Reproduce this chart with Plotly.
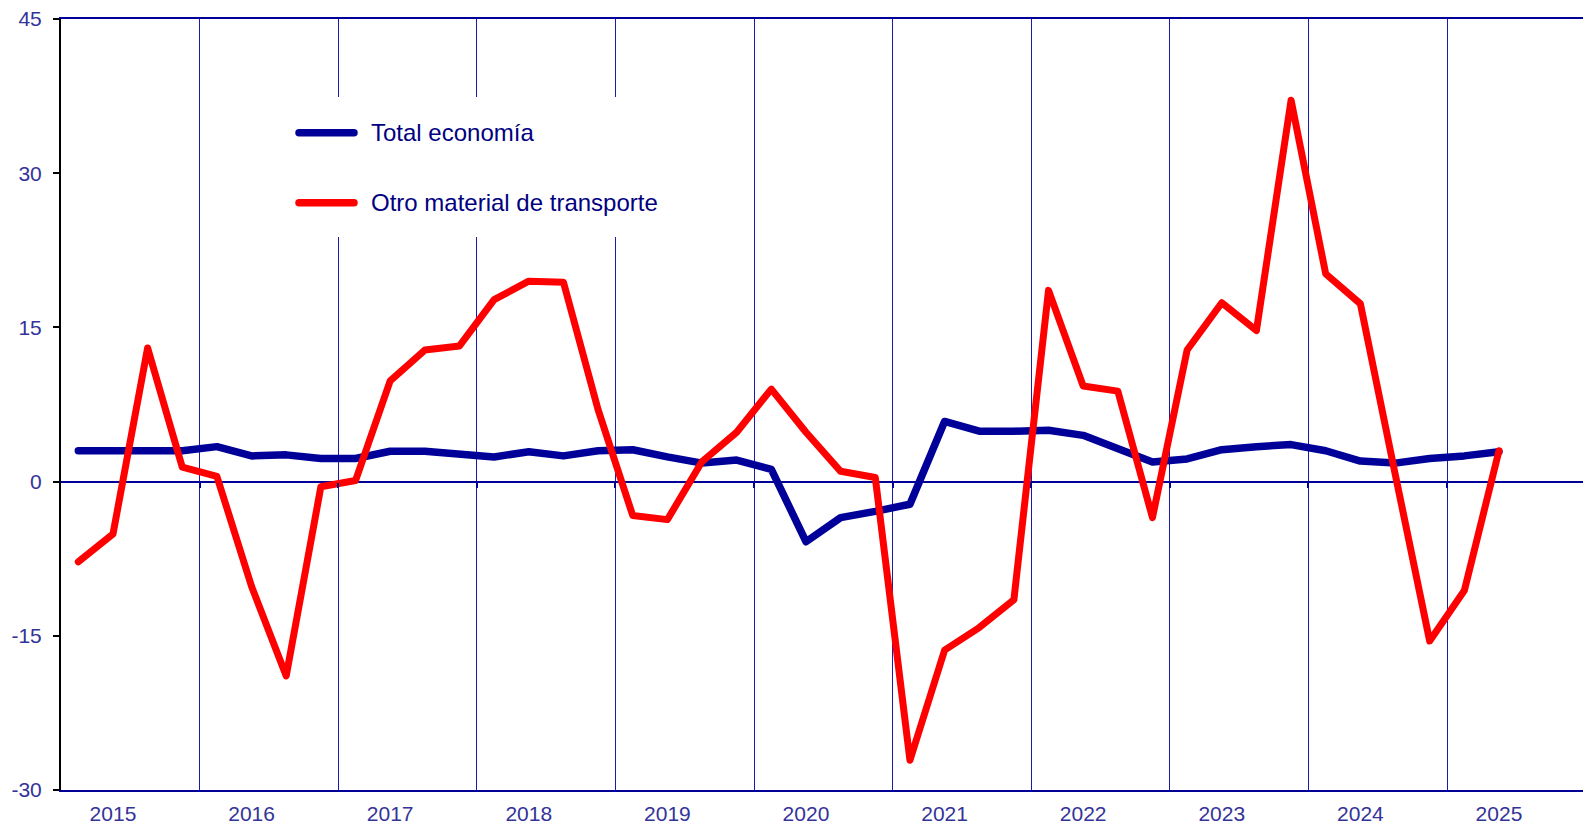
import plotly.graph_objects as go

# ---- data -------------------------------------------------------------
years = [str(y) for y in range(2015, 2026)]

total_economia = [
    3.0, 3.0, 3.1, 3.0,      # 2015
    3.4, 2.5, 2.6, 2.25,     # 2016
    2.25, 2.95, 2.95, 2.7,   # 2017
    2.4, 2.9, 2.5, 3.0,      # 2018
    3.1, 2.4, 1.8, 2.1,      # 2019
    1.2, -5.85, -3.5, -2.9,  # 2020
    -2.2, 5.85, 4.9, 4.9,    # 2021
    5.0, 4.5, 3.2, 1.9,      # 2022
    2.2, 3.1, 3.4, 3.6,      # 2023
    3.0, 2.0, 1.8, 2.25,     # 2024
    2.5, 2.9,                # 2025
]

otro_material = [
    -7.8, -5.1, 13.0, 1.4,      # 2015
    0.5, -10.2, -18.9, -0.5,    # 2016
    0.1, 9.8, 12.8, 13.2,       # 2017
    17.7, 19.5, 19.4, 7.0,      # 2018
    -3.3, -3.7, 1.95, 4.8,      # 2019
    9.0, 4.8, 1.0, 0.4,         # 2020
    -27.1, -16.4, -14.2, -11.5, # 2021
    18.6, 9.3, 8.8, -3.5,       # 2022
    12.8, 17.4, 14.7, 37.1,     # 2023
    20.2, 17.3, 0.8, -15.5,     # 2024
    -10.6, 3.0,                 # 2025
]

y_ticks = [-30, -15, 0, 15, 30, 45]
y_ticktext = ["-30", "-15", "0", "15", "30", "45"]

series_names = ["Total economía", "Otro material de transporte"]
series_colors = ["#000099", "#ff0000"]

# quarter index (0 = first quarter of 2015)
qidx = list(range(len(total_economia)))
year_label_pos = [4 * i + 1 for i in range(len(years))]
year_bounds = [4 * i - 0.5 for i in range(1, len(years))]

# ---- figure -------------------------------------------------------------
W, H = 1583, 828
ML, MR, MT, MB = 61, 0, 19, 38
PW, PH = W - ML - MR, H - MT - MB

fig = go.Figure()
fig.add_trace(go.Scatter(x=qidx, y=total_economia, mode="lines", name=series_names[0],
                         line=dict(color=series_colors[0], width=7.5), showlegend=False,
                         xaxis="x", yaxis="y"))
fig.add_trace(go.Scatter(x=qidx, y=otro_material, mode="lines", name=series_names[1],
                         line=dict(color=series_colors[1], width=7), showlegend=False,
                         xaxis="x2", yaxis="y"))

tick_font = dict(family="Liberation Sans, Arial, sans-serif", size=21, color="#333399")
xr = [-0.5, -0.5 + PW / 34.65]

fig.update_layout(
    width=W, height=H,
    margin=dict(l=ML, r=MR, t=MT, b=MB, pad=0),
    paper_bgcolor="white", plot_bgcolor="white",
    showlegend=False,
    xaxis=dict(
        range=xr, tickmode="array", tickvals=year_label_pos, ticktext=years,
        ticks="", showgrid=False, zeroline=False,
        showline=True, linecolor="#000099", linewidth=2, mirror=True,
        tickfont=tick_font, automargin=False, ticklabelstandoff=4,
        minor=dict(tickmode="array", tickvals=year_bounds, showgrid=True,
                   gridcolor="#1a1aa8", gridwidth=1, ticks=""),
    ),
    xaxis2=dict(
        overlaying="x", matches="x", anchor="free", position=0.4,
        range=xr, tickmode="array", tickvals=year_bounds, ticks="outside",
        ticklen=5, tickwidth=1.5, tickcolor="#000099",
        showticklabels=False, showgrid=False, zeroline=False, showline=False,
        automargin=False,
    ),
    yaxis=dict(
        range=[-30, 45], tickmode="array", tickvals=y_ticks, ticktext=y_ticktext,
        showgrid=False, showline=True, linecolor="black", linewidth=2,
        ticks="outside", ticklen=6, tickwidth=2, tickcolor="black",
        zeroline=True, zerolinecolor="#000099", zerolinewidth=2,
        tickfont=tick_font, automargin=False, ticklabelstandoff=7,
    ),
)

# ---- legend (inside the plot, white box hiding the grid) ----------------
def px_x(p):
    return (p - ML) / PW

def px_y(p):
    return (H - MB - p) / PH

fig.add_shape(type="rect", xref="paper", yref="paper",
              x0=px_x(262), x1=px_x(680), y0=px_y(237), y1=px_y(97),
              fillcolor="white", line=dict(width=0), layer="above")
leg_rows = [132.7, 202.7]
for name, color, yy in zip(series_names, series_colors, leg_rows):
    fig.add_shape(type="line", xref="paper", yref="paper",
                  x0=px_x(299), x1=px_x(354), y0=px_y(yy), y1=px_y(yy),
                  line=dict(color=color, width=7.5), layer="above")
    fig.add_annotation(xref="paper", yref="paper", x=px_x(369), y=px_y(yy),
                       text=name, showarrow=False, xanchor="left", yanchor="middle",
                       font=dict(family="Liberation Sans, Arial, sans-serif", size=24,
                                 color="#000080"))

# remove the default 8px page margin; round line joins like the original
post = (
    "document.body.style.margin='0px';"
    "document.querySelectorAll('.scatterlayer path.js-line, .shapelayer path')"
    ".forEach(function(p){p.style.strokeLinejoin='round';p.style.strokeLinecap='round';});"
)
fig.write_html("out.html", post_script=post, config={"displayModeBar": False})
